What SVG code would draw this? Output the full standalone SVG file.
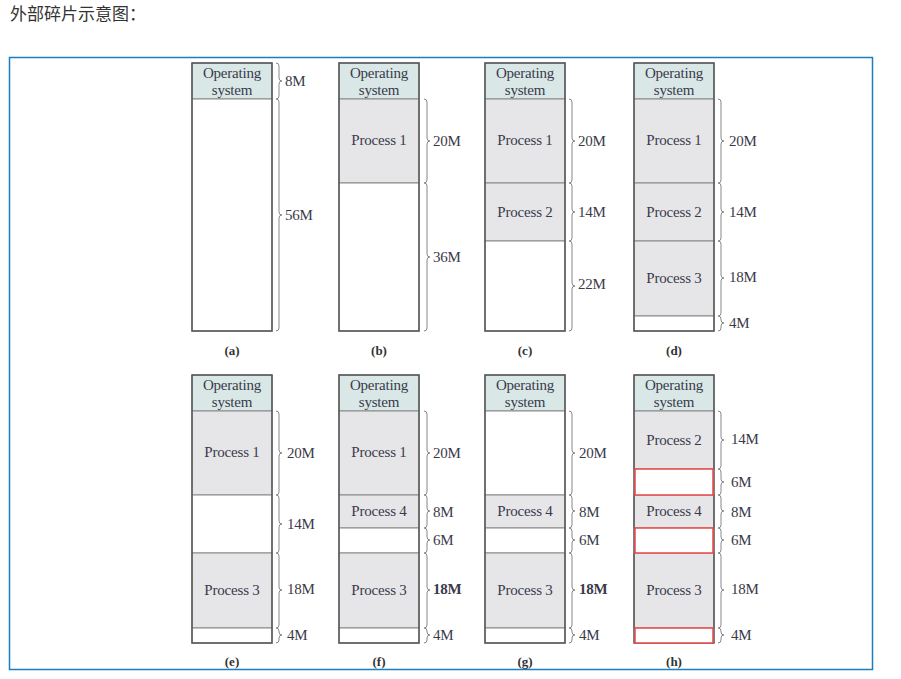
<svg xmlns="http://www.w3.org/2000/svg" width="901" height="679" viewBox="0 0 901 679">
<style>
.os{fill:#d9e8e7;stroke:#888;stroke-width:1}
.pr{fill:#e6e6e9;stroke:#888;stroke-width:1}
.fr{fill:#fff;stroke:#888;stroke-width:1}
.hole{fill:#fff;stroke:#e84848;stroke-width:1.5}
.col{fill:none;stroke:#555;stroke-width:1.5}
.br{fill:none;stroke:#888;stroke-width:1}
text{font-family:"Liberation Serif","Times New Roman",serif;fill:#3a3a4a}
.t{font-size:15px;text-anchor:middle;letter-spacing:-0.2px}
.s{font-size:15px;letter-spacing:-0.3px}
.c{font-size:13px;text-anchor:middle;font-weight:bold;fill:#333}
.title{font-family:"Noto Sans CJK SC",sans-serif;font-size:17px;fill:#333}
</style>
<rect x="0" y="0" width="901" height="679" fill="#fff"/>
<text class="title" x="10" y="20">外部碎片示意图：</text>
<rect x="9.5" y="57.5" width="863" height="612" fill="#fff" stroke="#1a7fc1" stroke-width="1.5"/>

<!-- (a) -->
<g id="a">
<rect class="os" x="192" y="63" width="80" height="36"/>
<rect class="fr" x="192" y="99" width="80" height="232"/>
<rect class="col" x="192" y="63" width="80" height="268"/>
<text class="t" x="232" y="78">Operating</text><text class="t" x="232" y="95">system</text>
<path class="br" d="M276,63 q3,0 3,3 L279,78 q0,3 3,3 q-3,0 -3,3 L279,96 q0,3 -3,3"/>
<path class="br" d="M276,99 q3,0 3,3 L279,212 q0,3 3,3 q-3,0 -3,3 L279,328 q0,3 -3,3"/>
<text class="s" x="285" y="86">8M</text>
<text class="s" x="285" y="220">56M</text>
<text class="c" x="232" y="355">(a)</text>
</g>

<!-- (b) -->
<g id="b">
<rect class="os" x="339" y="63" width="80" height="36"/>
<rect class="pr" x="339" y="99" width="80" height="84"/>
<rect class="fr" x="339" y="183" width="80" height="148"/>
<rect class="col" x="339" y="63" width="80" height="268"/>
<text class="t" x="379" y="78">Operating</text><text class="t" x="379" y="95">system</text>
<text class="t" x="379" y="145">Process 1</text>
<path class="br" d="M424,99 q3,0 3,3 L427,138 q0,3 3,3 q-3,0 -3,3 L427,180 q0,3 -3,3"/>
<path class="br" d="M424,183 q3,0 3,3 L427,254 q0,3 3,3 q-3,0 -3,3 L427,328 q0,3 -3,3"/>
<text class="s" x="433" y="146">20M</text>
<text class="s" x="433" y="262">36M</text>
<text class="c" x="379" y="355">(b)</text>
</g>

<!-- (c) -->
<g id="c">
<rect class="os" x="485" y="63" width="80" height="36"/>
<rect class="pr" x="485" y="99" width="80" height="84"/>
<rect class="pr" x="485" y="183" width="80" height="58"/>
<rect class="fr" x="485" y="241" width="80" height="90"/>
<rect class="col" x="485" y="63" width="80" height="268"/>
<text class="t" x="525" y="78">Operating</text><text class="t" x="525" y="95">system</text>
<text class="t" x="525" y="145">Process 1</text>
<text class="t" x="525" y="217">Process 2</text>
<path class="br" d="M569,99 q3,0 3,3 L572,138 q0,3 3,3 q-3,0 -3,3 L572,180 q0,3 -3,3"/>
<path class="br" d="M569,183 q3,0 3,3 L572,209 q0,3 3,3 q-3,0 -3,3 L572,238 q0,3 -3,3"/>
<path class="br" d="M569,241 q3,0 3,3 L572,283 q0,3 3,3 q-3,0 -3,3 L572,328 q0,3 -3,3"/>
<text class="s" x="578" y="146">20M</text>
<text class="s" x="578" y="217">14M</text>
<text class="s" x="578" y="289">22M</text>
<text class="c" x="525" y="355">(c)</text>
</g>

<!-- (d) -->
<g id="d">
<rect class="os" x="634" y="63" width="80" height="36"/>
<rect class="pr" x="634" y="99" width="80" height="84"/>
<rect class="pr" x="634" y="183" width="80" height="58"/>
<rect class="pr" x="634" y="241" width="80" height="75"/>
<rect class="fr" x="634" y="316" width="80" height="15"/>
<rect class="col" x="634" y="63" width="80" height="268"/>
<text class="t" x="674" y="78">Operating</text><text class="t" x="674" y="95">system</text>
<text class="t" x="674" y="145">Process 1</text>
<text class="t" x="674" y="217">Process 2</text>
<text class="t" x="674" y="283">Process 3</text>
<path class="br" d="M718,99 q3,0 3,3 L721,138 q0,3 3,3 q-3,0 -3,3 L721,180 q0,3 -3,3"/>
<path class="br" d="M718,183 q3,0 3,3 L721,209 q0,3 3,3 q-3,0 -3,3 L721,238 q0,3 -3,3"/>
<path class="br" d="M718,241 q3,0 3,3 L721,275 q0,3 3,3 q-3,0 -3,3 L721,313 q0,3 -3,3"/>
<path class="br" d="M718,316 q3,0 3,3 L721,320 q0,3 3,3 q-3,0 -3,3 L721,328 q0,3 -3,3"/>
<text class="s" x="729" y="146">20M</text>
<text class="s" x="729" y="217">14M</text>
<text class="s" x="729" y="282">18M</text>
<text class="s" x="729" y="328">4M</text>
<text class="c" x="674" y="355">(d)</text>
</g>

<!-- (e) -->
<g id="e">
<rect class="os" x="192" y="375" width="80" height="36"/>
<rect class="pr" x="192" y="411" width="80" height="84"/>
<rect class="fr" x="192" y="495" width="80" height="58"/>
<rect class="pr" x="192" y="553" width="80" height="75"/>
<rect class="fr" x="192" y="628" width="80" height="15"/>
<rect class="col" x="192" y="375" width="80" height="268"/>
<text class="t" x="232" y="390">Operating</text><text class="t" x="232" y="407">system</text>
<text class="t" x="232" y="457">Process 1</text>
<text class="t" x="232" y="595">Process 3</text>
<path class="br" d="M276,411 q3,0 3,3 L279,450 q0,3 3,3 q-3,0 -3,3 L279,492 q0,3 -3,3"/>
<path class="br" d="M276,495 q3,0 3,3 L279,521 q0,3 3,3 q-3,0 -3,3 L279,550 q0,3 -3,3"/>
<path class="br" d="M276,553 q3,0 3,3 L279,587 q0,3 3,3 q-3,0 -3,3 L279,625 q0,3 -3,3"/>
<path class="br" d="M276,628 q3,0 3,3 L279,632 q0,3 3,3 q-3,0 -3,3 L279,640 q0,3 -3,3"/>
<text class="s" x="287" y="458">20M</text>
<text class="s" x="287" y="529">14M</text>
<text class="s" x="287" y="594">18M</text>
<text class="s" x="287" y="640">4M</text>
<text class="c" x="232" y="666">(e)</text>
</g>

<!-- (f) -->
<g id="f">
<rect class="os" x="339" y="375" width="80" height="36"/>
<rect class="pr" x="339" y="411" width="80" height="84"/>
<rect class="pr" x="339" y="495" width="80" height="33"/>
<rect class="fr" x="339" y="528" width="80" height="25"/>
<rect class="pr" x="339" y="553" width="80" height="75"/>
<rect class="fr" x="339" y="628" width="80" height="15"/>
<rect class="col" x="339" y="375" width="80" height="268"/>
<text class="t" x="379" y="390">Operating</text><text class="t" x="379" y="407">system</text>
<text class="t" x="379" y="457">Process 1</text>
<text class="t" x="379" y="516">Process 4</text>
<text class="t" x="379" y="595">Process 3</text>
<path class="br" d="M424,411 q3,0 3,3 L427,450 q0,3 3,3 q-3,0 -3,3 L427,492 q0,3 -3,3"/>
<path class="br" d="M424,495 q3,0 3,3 L427,508 q0,3 3,3 q-3,0 -3,3 L427,525 q0,3 -3,3"/>
<path class="br" d="M424,528 q3,0 3,3 L427,537 q0,3 3,3 q-3,0 -3,3 L427,550 q0,3 -3,3"/>
<path class="br" d="M424,553 q3,0 3,3 L427,587 q0,3 3,3 q-3,0 -3,3 L427,625 q0,3 -3,3"/>
<path class="br" d="M424,628 q3,0 3,3 L427,632 q0,3 3,3 q-3,0 -3,3 L427,640 q0,3 -3,3"/>
<text class="s" x="433" y="458">20M</text>
<text class="s" x="433" y="517">8M</text>
<text class="s" x="433" y="545">6M</text>
<text class="s" x="433" y="594" font-weight="bold">18M</text>
<text class="s" x="433" y="640">4M</text>
<text class="c" x="379" y="666">(f)</text>
</g>

<!-- (g) -->
<g id="g">
<rect class="os" x="485" y="375" width="80" height="36"/>
<rect class="fr" x="485" y="411" width="80" height="84"/>
<rect class="pr" x="485" y="495" width="80" height="33"/>
<rect class="fr" x="485" y="528" width="80" height="25"/>
<rect class="pr" x="485" y="553" width="80" height="75"/>
<rect class="fr" x="485" y="628" width="80" height="15"/>
<rect class="col" x="485" y="375" width="80" height="268"/>
<text class="t" x="525" y="390">Operating</text><text class="t" x="525" y="407">system</text>
<text class="t" x="525" y="516">Process 4</text>
<text class="t" x="525" y="595">Process 3</text>
<path class="br" d="M569,411 q3,0 3,3 L572,450 q0,3 3,3 q-3,0 -3,3 L572,492 q0,3 -3,3"/>
<path class="br" d="M569,495 q3,0 3,3 L572,508 q0,3 3,3 q-3,0 -3,3 L572,525 q0,3 -3,3"/>
<path class="br" d="M569,528 q3,0 3,3 L572,537 q0,3 3,3 q-3,0 -3,3 L572,550 q0,3 -3,3"/>
<path class="br" d="M569,553 q3,0 3,3 L572,587 q0,3 3,3 q-3,0 -3,3 L572,625 q0,3 -3,3"/>
<path class="br" d="M569,628 q3,0 3,3 L572,632 q0,3 3,3 q-3,0 -3,3 L572,640 q0,3 -3,3"/>
<text class="s" x="579" y="458">20M</text>
<text class="s" x="579" y="517">8M</text>
<text class="s" x="579" y="545">6M</text>
<text class="s" x="579" y="594" font-weight="bold">18M</text>
<text class="s" x="579" y="640">4M</text>
<text class="c" x="525" y="666">(g)</text>
</g>

<!-- (h) -->
<g id="h">
<rect class="os" x="634" y="375" width="80" height="36"/>
<rect class="pr" x="634" y="411" width="80" height="58"/>
<rect class="pr" x="634" y="495" width="80" height="33"/>
<rect class="pr" x="634" y="553" width="80" height="75"/>
<rect class="col" x="634" y="375" width="80" height="268"/>
<rect class="hole" x="635" y="469" width="78" height="26"/>
<rect class="hole" x="635" y="528" width="78" height="25"/>
<rect class="hole" x="635" y="628" width="78" height="15"/>
<text class="t" x="674" y="390">Operating</text><text class="t" x="674" y="407">system</text>
<text class="t" x="674" y="445">Process 2</text>
<text class="t" x="674" y="516">Process 4</text>
<text class="t" x="674" y="595">Process 3</text>
<path class="br" d="M718,411 q3,0 3,3 L721,437 q0,3 3,3 q-3,0 -3,3 L721,466 q0,3 -3,3"/>
<path class="br" d="M718,469 q3,0 3,3 L721,479 q0,3 3,3 q-3,0 -3,3 L721,492 q0,3 -3,3"/>
<path class="br" d="M718,495 q3,0 3,3 L721,508 q0,3 3,3 q-3,0 -3,3 L721,525 q0,3 -3,3"/>
<path class="br" d="M718,528 q3,0 3,3 L721,537 q0,3 3,3 q-3,0 -3,3 L721,550 q0,3 -3,3"/>
<path class="br" d="M718,553 q3,0 3,3 L721,587 q0,3 3,3 q-3,0 -3,3 L721,625 q0,3 -3,3"/>
<path class="br" d="M718,628 q3,0 3,3 L721,632 q0,3 3,3 q-3,0 -3,3 L721,640 q0,3 -3,3"/>
<text class="s" x="731" y="444">14M</text>
<text class="s" x="731" y="487">6M</text>
<text class="s" x="731" y="517">8M</text>
<text class="s" x="731" y="545">6M</text>
<text class="s" x="731" y="594">18M</text>
<text class="s" x="731" y="640">4M</text>
<text class="c" x="674" y="666">(h)</text>
</g>
</svg>
